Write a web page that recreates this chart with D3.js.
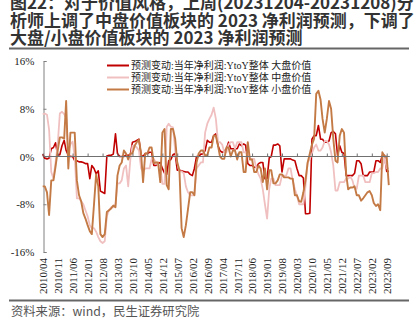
<!DOCTYPE html>
<html><head><meta charset="utf-8">
<script src="https://cdn.jsdelivr.net/npm/d3@7"></script>
<style>
html,body{margin:0;padding:0;background:#fff;}
svg{display:block;}
</style></head>
<body>
<svg id="chart" width="416" height="328"></svg>
<script>
const titleLines = [
  "图22：对于价值风格，上周(20231204-20231208)分",
  "析师上调了中盘价值板块的 2023 净利润预测，下调了",
  "大盘/小盘价值板块的 2023 净利润预测"
];
const sourceText = "资料来源：wind，民生证券研究院";
const seriesNames = [
  "预测变动:当年净利润:YtoY整体 大盘价值",
  "预测变动:当年净利润:YtoY整体 中盘价值",
  "预测变动:当年净利润:YtoY整体 小盘价值"
];
const startMonth = "2010/04";
const xTickLabels = ["2010/04","2010/11","2011/06","2012/01","2012/08","2013/03","2013/10","2014/05","2014/12","2015/07","2016/02","2016/09","2017/04","2017/11","2018/06","2019/01","2019/08","2020/03","2020/10","2021/05","2021/12","2022/07","2023/02","2023/09"];
const yTicks = [-16,-8,0,8,16];

// monthly values (%), starting 2010/04
const largeValue = [0.4,-0.3,-0.4,-0.3,1.3,1.5,2.3,0.2,0.3,1.8,2.7,1.0,0.2,0,0,-0.7,-0.7,-0.9,-0.9,-1.0,
-1.2,-1.2,-3.7,-1.5,-2.0,-2.9,-2.4,-5.8,-6.0,-6.2,0.1,0.2,0.2,0.4,3.8,0.5,0,0,0,0.2,
0.2,0.3,2.4,2.5,2.7,2.9,0.2,0,0.5,0.5,0.7,0.7,-1.5,-1.5,-1.2,-1.0,-2.0,-2.8,-3.0,-0.7,
-0.5,0.3,0.5,-2.3,-2.3,-2.4,-2.5,-2.6,-2.6,-3.0,-3.2,-2.0,0,0,0.4,0.4,1.0,2.7,2.4,2.4,
3.5,3.8,1.8,1.0,0.7,0.9,1.3,2.4,1.3,1.3,1.3,1.3,2.1,1.8,2.1,1.9,-1.2,-1.5,-1.5,-1.8,
-1.8,-1.2,-1.0,-1.0,-3.7,-3.7,-0.2,0,1.9,1.9,2.1,1.8,-2.6,-0.4,-0.4,-0.4,-0.4,-0.6,-0.7,-2.0,
-3.2,-3.2,-3.6,-9.6,-9.6,-9.5,2.9,3.5,3.5,5.2,2.9,2.9,2.4,2.4,2.6,4.0,4.2,3.8,0.2,1.8,
0.7,0.5,-3.2,-3.2,-3.2,-3.2,-2.8,-0.7,-0.7,-1.2,-3.2,-3.2,-3.2,-2.6,-2.6,-2.6,-0.7,-0.7,-1.0,0.2,
0.2,-2.5,-2.5];
const midValue = [7.1,7.2,7.0,4.5,-2.6,-3.7,-1.0,2.0,7.2,7.5,7.1,6.5,1.0,2.0,2.5,0,-7.0,-7.0,-7.5,-8.0,
-9.0,-10.0,-11.5,-12.0,-12.0,-12.6,-13.5,-14.2,-14.5,-14.2,-10.0,-9.0,-8.5,-8.5,-8.0,-4.5,-4.5,-4.0,-2.0,-1.5,
-5.0,-0.5,1.8,1.8,1.5,1.0,-2.0,-2.5,-2.0,-2.0,-2.0,-0.4,-0.4,-1.0,-1.5,-1.5,-4.6,-4.6,5.0,5.5,
5.0,4.9,1.0,-1.0,-2.5,-2.5,-2.8,-5.0,-6.0,-6.5,-6.5,-6.5,-2.0,-1.5,-1.0,-1.0,4.0,5.5,6.3,7.0,
8.2,6.3,2.4,2.4,2.0,0.7,0.7,2.0,2.4,2.4,1.3,2.4,2.4,2.4,0.7,0.7,0.7,-0.4,-0.4,-0.4,
-2.0,-3.0,-3.7,-5.5,-8.0,-10.4,-5.4,-3.7,-3.7,-4.8,-4.8,-4.8,-3.2,-3.2,-3.2,-2.0,-2.0,-4.0,-5.5,-6.5,
-8.0,-8.0,-8.0,-5.0,-1.0,-0.4,0.5,1.5,2.0,1.0,1.0,1.5,2.6,2.6,2.0,0.7,-1.5,-5.7,-5.7,-4.3,
-4.3,-4.3,-3.7,-3.7,-3.4,-4.0,-5.4,-5.4,-3.2,-3.2,-3.2,-4.3,-4.3,-4.3,-2.8,-2.8,-2.6,-2.6,-2.0,-2.0,
0,-2.0,-2.0];
const smallValue = [-5.0,-5.0,-6.0,-9.8,-4.0,-4.0,-1.7,1.0,3.2,3.2,3.0,9.3,-2.0,4.0,4.0,4.0,-4.0,-6.5,-7.5,-9.5,
-10.4,-11.5,-12.5,-13.0,-8.0,-3.0,-5.0,-13.0,-13.5,-13.0,-9.3,-9.0,-8.7,-8.2,-8.5,-3.2,-1.5,-1.0,1.0,0.5,
-0.5,0.5,0.5,1.8,2.4,2.8,0.5,-4.3,0.5,0.5,1.5,1.5,-1.1,-1.0,-1.0,-4.3,4.0,4.6,-4.8,-5.5,
4.6,4.6,3.0,-1.0,-2.3,-12.0,-13.5,-11.5,-8.8,-6.0,-6.0,-6.5,-1.0,0.5,1.0,1.0,0.2,0.2,1.5,1.5,
3.5,3.5,1.8,0,-0.4,-0.4,1.5,1.5,0,1.0,1.0,-0.5,0.7,0.7,-2.6,-2.6,2.4,-0.5,-0.5,-2.6,
-2.6,-1.5,-2.0,-4.3,-2.0,-5.5,-2.3,-2.3,-4.5,-4.5,-4.0,-3.0,-3.0,-3.5,-3.5,-3.5,-3.7,-3.7,-6.5,-6.5,
-7.5,-7.6,-6.0,-4.0,-1.0,0.5,2.0,3.0,10.5,11.0,9.5,6.3,4.0,6.3,9.3,8.0,3.0,-0.7,-1.0,3.5,
4.6,4.0,-3.0,-5.5,-5.2,-5.2,-5.0,-6.5,-6.5,-7.4,-7.0,-6.5,-6.0,-5.8,-6.5,-7.8,-8.3,-8.0,-9.0,0.7,
0,0,-4.8];

const colors = ["#C00000", "#F0C0C0", "#C47A45"];
const widths = [1.6, 1.8, 1.9];

const svg = d3.select("#chart");
const parse = d3.timeParse("%Y/%m");
const t0 = parse(startMonth);

// Title
const title = svg.append("g");
titleLines.forEach((s, i) => {
  title.append("text")
    .attr("x", 10).attr("y", 9 + i * 17.5)
    .attr("font-family", "'Noto Sans CJK SC', sans-serif")
    .attr("font-weight", "bold")
    .attr("font-size", 17)
    .attr("fill", "#333")
    .text(s);
});
svg.append("line").attr("x1", 9).attr("x2", 409).attr("y1", 48.5).attr("y2", 48.5)
  .attr("stroke", "#666").attr("stroke-width", 2);
svg.append("line").attr("x1", 9).attr("x2", 409).attr("y1", 300.5).attr("y2", 300.5)
  .attr("stroke", "#666").attr("stroke-width", 2);
svg.append("text").attr("x", 11).attr("y", 316)
  .attr("font-family", "'Noto Sans CJK SC', sans-serif")
  .attr("font-size", 12.3).attr("fill", "#555").text(sourceText);

// Scales
const x = d3.scaleTime()
  .domain([t0, parse(xTickLabels[xTickLabels.length - 1])])
  .range([42.7, 386.7]);
const y = d3.scaleLinear().domain([-16, 16]).range([252, 61]);

const serifFont = "'Liberation Serif', 'Noto Sans CJK SC', serif";

// Y axis
const yAxis = svg.append("g").attr("transform", `translate(43.5,0)`)
  .call(d3.axisLeft(y).tickValues(yTicks).tickSize(-3).tickPadding(9).tickFormat(d => d + "%"));
yAxis.select(".domain").attr("stroke", "#808080");
yAxis.selectAll(".tick line").attr("stroke", "#808080");
yAxis.selectAll("text").attr("font-family", serifFont).attr("font-size", 11).attr("fill", "#222");

// Series
const series = [largeValue, midValue, smallValue];
const line = d3.line()
  .x((d, i) => x(d3.timeMonth.offset(t0, i)))
  .y(d => y(d));
series.forEach((vals, k) => {
  svg.append("path").datum(vals)
    .attr("fill", "none")
    .attr("stroke", colors[k])
    .attr("stroke-width", widths[k])
    .attr("stroke-linejoin", "round")
    .attr("d", line);
});

// Zero axis (drawn over lines)
const tickDates = xTickLabels.map(parse);
const xEnd = x(d3.timeMonth.offset(t0, largeValue.length - 1));
const zeroAxis = svg.append("g").attr("transform", `translate(0,${y(0)})`)
  .call(d3.axisTop(x).tickValues(tickDates).tickSize(3).tickSizeOuter(0).tickFormat(""));
zeroAxis.select(".domain").attr("d", `M43.5,0H${xEnd + 1}`).attr("stroke", "#707070");
zeroAxis.selectAll(".tick line").attr("stroke", "#707070");

// X labels
const xLab = svg.append("g").attr("transform", `translate(0,252)`)
  .call(d3.axisBottom(x).tickValues(tickDates).tickSize(0).tickFormat(d3.timeFormat("%Y/%m")));
xLab.select(".domain").remove();
xLab.selectAll("text")
  .attr("font-family", serifFont).attr("font-size", 11).attr("fill", "#222")
  .attr("transform", "rotate(-90)")
  .attr("text-anchor", "end")
  .attr("x", -6).attr("y", 0).attr("dy", "0.35em");

// Legend
const leg = svg.append("g");
seriesNames.forEach((name, k) => {
  const yy = 65.5 + k * 12;
  leg.append("line").attr("x1", 107).attr("x2", 129).attr("y1", yy).attr("y2", yy)
    .attr("stroke", colors[k]).attr("stroke-width", 2);
  leg.append("text").attr("x", 131).attr("y", yy + 3.6)
    .attr("font-family", serifFont).attr("font-size", 10).attr("fill", "#222")
    .text(name);
});
</script>
</body></html>
